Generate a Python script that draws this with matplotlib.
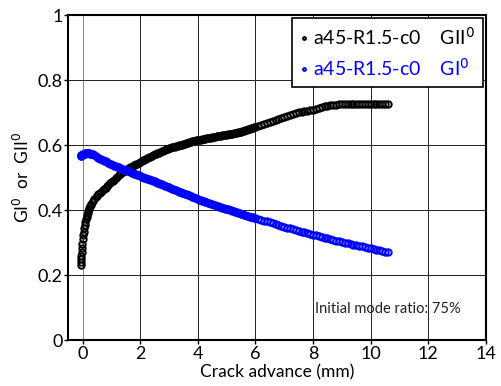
import matplotlib.pyplot as plt

plt.rcParams['font.family'] = ['Lato', 'DejaVu Sans']

# crack advance (mm), shared by both energy release rate curves
crack_adv = [
    -0.07, -0.06, -0.05, -0.04, -0.03, -0.02, -0.01, 0.00, 0.02, 0.04,
    0.06, 0.08, 0.10, 0.12, 0.14, 0.16, 0.18, 0.20, 0.22, 0.24, 0.26, 0.28,
    0.30, 0.35, 0.40, 0.45, 0.50, 0.55, 0.60, 0.65, 0.70, 0.75,
    0.80, 0.85, 0.90, 0.95, 1.00, 1.05, 1.10, 1.15, 1.20, 1.25,
    1.30, 1.35, 1.40, 1.45, 1.50, 1.55, 1.60, 1.65, 1.70, 1.75,
    1.80, 1.85, 1.90, 1.95, 2.00, 2.05, 2.10, 2.15, 2.20, 2.25,
    2.30, 2.35, 2.40, 2.45, 2.50, 2.55, 2.60, 2.65, 2.70, 2.75,
    2.80, 2.85, 2.90, 2.95, 3.00, 3.05, 3.10, 3.15, 3.20, 3.25,
    3.30, 3.35, 3.40, 3.45, 3.50, 3.55, 3.60, 3.65, 3.70, 3.75,
    3.80, 3.85, 3.90, 3.95, 4.00, 4.05, 4.10, 4.15, 4.20, 4.25,
    4.30, 4.35, 4.40, 4.45, 4.50, 4.55, 4.60, 4.65, 4.70, 4.75,
    4.80, 4.85, 4.90, 4.95, 5.00, 5.05, 5.10, 5.15, 5.20, 5.25,
    5.30, 5.35, 5.40, 5.45, 5.50, 5.55, 5.60, 5.65, 5.70, 5.75,
    5.80, 5.85, 5.90, 5.95, 6.00,
    6.1, 6.2, 6.3, 6.4, 6.5, 6.6, 6.7, 6.8, 6.9, 7.0,
    7.1, 7.2, 7.3, 7.4, 7.5, 7.6, 7.7, 7.8, 7.9, 8.0,
    8.1, 8.2, 8.3, 8.4, 8.5, 8.6, 8.7, 8.8, 8.9, 9.0,
    9.1, 9.2, 9.3, 9.4, 9.5, 9.6, 9.7, 9.8, 9.9, 10.0,
    10.1, 10.2, 10.3, 10.4, 10.5, 10.6,
]

g2_norm = [
    0.230, 0.240, 0.250, 0.260, 0.270, 0.282, 0.295, 0.310, 0.322, 0.334,
    0.345, 0.355, 0.363, 0.371, 0.379, 0.386, 0.392, 0.397, 0.402, 0.407, 0.411, 0.416,
    0.420, 0.427, 0.433, 0.439, 0.444, 0.449, 0.453, 0.457, 0.461, 0.465,
    0.469, 0.473, 0.477, 0.482, 0.486, 0.490, 0.494, 0.499, 0.503, 0.507,
    0.510, 0.514, 0.517, 0.520, 0.523, 0.525, 0.528, 0.531, 0.533, 0.536,
    0.538, 0.541, 0.543, 0.546, 0.548, 0.550, 0.553, 0.555, 0.557, 0.559,
    0.562, 0.564, 0.566, 0.568, 0.571, 0.573, 0.575, 0.577, 0.579, 0.581,
    0.583, 0.585, 0.587, 0.588, 0.590, 0.591, 0.593, 0.594, 0.595, 0.596,
    0.598, 0.599, 0.600, 0.601, 0.603, 0.604, 0.605, 0.607, 0.608, 0.609,
    0.611, 0.612, 0.613, 0.615, 0.616, 0.617, 0.617, 0.618, 0.619, 0.620,
    0.621, 0.621, 0.622, 0.623, 0.624, 0.625, 0.626, 0.627, 0.627, 0.628,
    0.629, 0.630, 0.630, 0.631, 0.632, 0.633, 0.634, 0.634, 0.635, 0.636,
    0.637, 0.638, 0.639, 0.640, 0.641, 0.643, 0.644, 0.646, 0.647, 0.649,
    0.650, 0.652, 0.654, 0.655, 0.657,
    0.660, 0.662, 0.665, 0.667, 0.670, 0.673, 0.676, 0.679, 0.682, 0.686,
    0.690, 0.694, 0.697, 0.700, 0.702, 0.703, 0.705, 0.706, 0.708, 0.709,
    0.711, 0.714, 0.716, 0.719, 0.721, 0.723, 0.724, 0.724, 0.725, 0.725,
    0.725, 0.725, 0.725, 0.725, 0.725, 0.725, 0.725, 0.725, 0.725, 0.725,
    0.725, 0.725, 0.725, 0.725, 0.725, 0.725,
]

g1_norm = [
    0.567, 0.567, 0.568, 0.568, 0.569, 0.570, 0.570, 0.571, 0.572, 0.573,
    0.574, 0.574, 0.575, 0.575, 0.576, 0.576, 0.576, 0.576, 0.575, 0.575, 0.574, 0.574,
    0.573, 0.571, 0.568, 0.566, 0.563, 0.561, 0.558, 0.556, 0.554, 0.552,
    0.550, 0.547, 0.545, 0.543, 0.541, 0.539, 0.537, 0.535, 0.533, 0.531,
    0.529, 0.527, 0.526, 0.524, 0.522, 0.520, 0.519, 0.517, 0.515, 0.514,
    0.512, 0.510, 0.508, 0.507, 0.505, 0.503, 0.502, 0.500, 0.498, 0.496,
    0.495, 0.493, 0.491, 0.490, 0.488, 0.486, 0.484, 0.482, 0.481, 0.479,
    0.477, 0.475, 0.474, 0.472, 0.470, 0.468, 0.466, 0.465, 0.463, 0.461,
    0.459, 0.457, 0.456, 0.454, 0.452, 0.450, 0.448, 0.447, 0.445, 0.443,
    0.441, 0.439, 0.438, 0.436, 0.434, 0.432, 0.431, 0.429, 0.428, 0.426,
    0.424, 0.423, 0.421, 0.420, 0.418, 0.416, 0.415, 0.413, 0.412, 0.410,
    0.409, 0.407, 0.406, 0.404, 0.403, 0.402, 0.400, 0.399, 0.397, 0.396,
    0.395, 0.393, 0.392, 0.390, 0.389, 0.388, 0.386, 0.385, 0.383, 0.382,
    0.380, 0.379, 0.378, 0.376, 0.375,
    0.372, 0.370, 0.367, 0.365, 0.362, 0.359, 0.357, 0.354, 0.352, 0.349,
    0.346, 0.344, 0.341, 0.339, 0.336, 0.334, 0.331, 0.329, 0.326, 0.324,
    0.322, 0.319, 0.317, 0.315, 0.313, 0.311, 0.309, 0.306, 0.304, 0.302,
    0.300, 0.298, 0.296, 0.294, 0.292, 0.290, 0.288, 0.286, 0.284, 0.282,
    0.280, 0.278, 0.276, 0.274, 0.272, 0.270,
]

case_name = 'a45-R1.5-c0'
x_ticks = [0, 2, 4, 6, 8, 10, 12, 14]
y_ticks = [0, 0.2, 0.4, 0.6, 0.8, 1]
y_tick_labels = ['0', '0.2', '0.4', '0.6', '0.8', '1']

fig = plt.figure(figsize=(5.01, 3.86), dpi=100)
ax = fig.add_axes([0.136, 0.119, 0.834, 0.842])

ax.plot(crack_adv, g2_norm, 'o', mfc='none', mec='black', ms=4.6, mew=1.4,
        label=case_name + '    GII$^0$')
ax.plot(crack_adv, g1_norm, 'o', mfc='none', mec='blue', ms=4.6, mew=1.4,
        label=case_name + '    GI$^0$')

ax.set_xlim(-0.5, 14)
ax.set_ylim(0, 1)
ax.set_xticks(x_ticks)
ax.set_yticks(y_ticks)
ax.set_yticklabels(y_tick_labels)
ax.tick_params(labelsize=13, direction='out', length=3, width=1, pad=1)

ax.grid(True, color='#222222', lw=0.7)
ax.get_xgridlines()[0].set_color('#888888')
for s in ax.spines.values():
    s.set_linewidth(1.5)

ax.set_xlabel('Crack advance (mm)', fontsize=12.5, labelpad=2)
ax.set_ylabel('GI$^0$  or  GII$^0$', fontsize=12.5, labelpad=4)

leg = ax.legend(loc='upper right', fontsize=14, labelcolor='markeredgecolor',
                handlelength=0.4, handletextpad=0.3, markerscale=0.45,
                fancybox=False, framealpha=1, edgecolor='black',
                borderaxespad=0.15, borderpad=0.4, labelspacing=0.5)
leg.get_frame().set_linewidth(1.2)

ax.text(10.6, 0.095, 'Initial mode ratio: 75%', fontsize=10.5, color='#222222',
        ha='center', va='center')

fig.savefig('out.png', dpi=100)
